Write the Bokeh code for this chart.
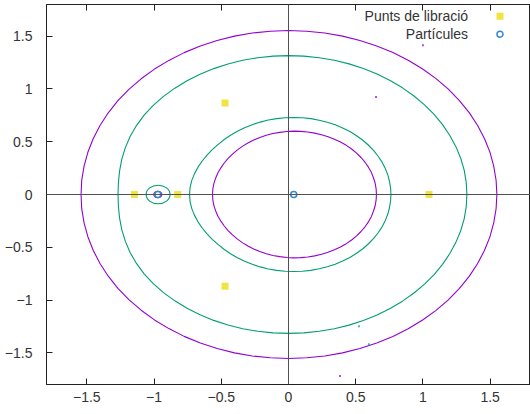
import math
from bokeh.plotting import figure
from bokeh.models import Range1d, LinearAxis, Span, Label
from bokeh.embed import file_html
from bokeh.resources import INLINE

# Libration points of the rotating frame
lib_x = [-0.824, -1.146, 1.045, -0.472, -0.472]
lib_y = [0.0, 0.0, 0.0, 0.867, -0.870]

# Particles (the two primaries)
part_x = [0.039, -0.972]
part_y = [0.0, 0.0]

# Contour curves, sampled every 5 degrees from 0 to 180 around a centre on the
# x axis (symmetric about y = 0): radius read at each angle.
angles_deg = list(range(0, 181, 5))

pur_out_cx = 0.0
pur_out_r = [1.550, 1.550, 1.550, 1.551, 1.551, 1.551, 1.552, 1.552, 1.552, 1.552,
             1.552, 1.552, 1.553, 1.553, 1.553, 1.553, 1.553, 1.553, 1.553,
             1.553, 1.553, 1.553, 1.552, 1.552, 1.552, 1.551, 1.551, 1.550, 1.550,
             1.549, 1.548, 1.547, 1.546, 1.545, 1.544, 1.544, 1.543]

grn_out_cx = 0.0
grn_out_r = [1.327, 1.327, 1.327, 1.326, 1.325, 1.324, 1.323, 1.322, 1.321, 1.320,
             1.319, 1.318, 1.318, 1.317, 1.317, 1.316, 1.316, 1.316, 1.316,
             1.316, 1.316, 1.316, 1.316, 1.316, 1.316, 1.316, 1.315, 1.315, 1.313,
             1.311, 1.306, 1.300, 1.292, 1.284, 1.276, 1.270, 1.268]

grn_in_cx = 0.039
grn_in_r = [0.723, 0.723, 0.723, 0.724, 0.724, 0.725, 0.725, 0.726, 0.726, 0.727,
            0.727, 0.728, 0.728, 0.729, 0.729, 0.729, 0.730, 0.730, 0.730,
            0.730, 0.730, 0.730, 0.730, 0.730, 0.731, 0.731, 0.732, 0.734, 0.736,
            0.740, 0.745, 0.751, 0.758, 0.764, 0.770, 0.774, 0.775]

pur_in_cx = 0.039
pur_in_r = [0.615, 0.615, 0.615, 0.614, 0.614, 0.613, 0.612, 0.611, 0.610, 0.609,
            0.608, 0.606, 0.605, 0.604, 0.603, 0.602, 0.601, 0.600, 0.600,
            0.599, 0.598, 0.598, 0.597, 0.596, 0.596, 0.595, 0.595, 0.595, 0.595,
            0.596, 0.597, 0.598, 0.600, 0.601, 0.603, 0.604, 0.604]

# Small rings around the smaller body: centre, width, height
grn_moon = (-0.970, 0.178, 0.176)
pur_moon = (-0.972, 0.060, 0.062)

# Isolated contour fragments
dot_pur_x = [1.000, 0.651, 0.383]
dot_pur_y = [1.414, 0.924, -1.720]
dot_grn_x = [0.524, 0.598]
dot_grn_y = [-1.248, -1.418]

xticks = [-1.5, -1, -0.5, 0, 0.5, 1, 1.5]
yticks = [-1.5, -1, -0.5, 0, 0.5, 1, 1.5]

PURPLE = "#9400d3"
GREEN = "#009e73"
YELLOW = "#f0e442"
BLUE = "#3388cc"
TEXT = "#333333"
FONT = "Liberation Sans"


def closed_curve(cx, radii):
    """Upper half from the sampled radii, mirrored for the lower half."""
    top = [(cx + r * math.cos(math.radians(a)), r * math.sin(math.radians(a)))
           for a, r in zip(angles_deg, radii)]
    bottom = [(x, -y) for x, y in reversed(top[:-1])]
    pts = top + bottom
    return [q[0] for q in pts], [q[1] for q in pts]


p = figure(width=530, height=414, output_backend="svg", toolbar_location=None,
           x_range=Range1d(-1.8, 1.8), y_range=Range1d(-1.8, 1.8),
           min_border_left=46, min_border_right=0, min_border_top=4,
           min_border_bottom=30, x_axis_location=None, y_axis_location=None)
p.grid.visible = False
p.outline_line_color = "#222222"
p.outline_line_width = 1
p.background_fill_color = "white"
p.border_fill_color = "white"


def style_axis(ax, ticks, labels=True):
    ax.ticker = ticks
    ax.axis_line_color = "#222222"
    ax.major_tick_in = 6
    ax.major_tick_out = 0
    ax.minor_tick_in = 0
    ax.minor_tick_out = 0
    ax.major_tick_line_color = "#222222"
    ax.major_label_text_font = FONT
    if labels:
        ax.major_label_text_font_size = "14px"
        ax.major_label_text_color = TEXT
        ax.major_label_standoff = 7
    else:
        ax.major_label_text_font_size = "0px"
        ax.major_label_text_color = None
        ax.major_label_standoff = 0


xb = LinearAxis()
style_axis(xb, xticks)
p.add_layout(xb, "below")
yl = LinearAxis()
style_axis(yl, yticks)
yl.major_label_standoff = 14
p.add_layout(yl, "left")
xt = LinearAxis()
style_axis(xt, xticks, labels=False)
p.add_layout(xt, "above")

# zero axes
p.add_layout(Span(location=0, dimension="width", line_color="#505050", line_width=1))
p.add_layout(Span(location=0, dimension="height", line_color="#505050", line_width=1))

for cx, radii, c in [(pur_out_cx, pur_out_r, PURPLE), (grn_out_cx, grn_out_r, GREEN),
                     (grn_in_cx, grn_in_r, GREEN), (pur_in_cx, pur_in_r, PURPLE)]:
    xs, ys = closed_curve(cx, radii)
    p.line(xs, ys, line_color=c, line_width=1.1)

for (cx, w, h), c in [(grn_moon, GREEN), (pur_moon, PURPLE)]:
    p.ellipse(x=[cx], y=[0.0], width=[w], height=[h], fill_color=None,
              line_color=c, line_width=1.1)

p.scatter(dot_pur_x, dot_pur_y, marker="square", size=2, fill_color=PURPLE, line_color=None, fill_alpha=0.7)
p.scatter(dot_grn_x, dot_grn_y, marker="square", size=2, fill_color=GREEN, line_color=None, fill_alpha=0.7)

p.scatter(lib_x, lib_y, marker="square", size=7, fill_color=YELLOW, line_color=None)
p.scatter(part_x, part_y, marker="circle", size=6, fill_color=None, line_color=BLUE, line_width=1.5)

# key in the upper right corner
xr, yr = p.x_range, p.y_range
span_x = xr.end - xr.start
span_y = yr.end - yr.start
key_text_x = xr.end - 0.129 * span_x
key_mark_x = xr.end - 0.063 * span_x
key_y = [yr.end - 0.031 * span_y, yr.end - 0.078 * span_y]
key_names = ["Punts de libració", "Partícules"]
for name, ky in zip(key_names, key_y):
    p.add_layout(Label(x=key_text_x, y=ky, text=name, text_align="right",
                       text_baseline="middle", text_font=FONT,
                       text_font_size="14px", text_color=TEXT))
p.scatter([key_mark_x], [key_y[0]], marker="square", size=7, fill_color=YELLOW, line_color=None)
p.scatter([key_mark_x], [key_y[1]], marker="circle", size=6, fill_color=None, line_color=BLUE, line_width=1.5)

open("out.html", "w").write(file_html(p, INLINE))
